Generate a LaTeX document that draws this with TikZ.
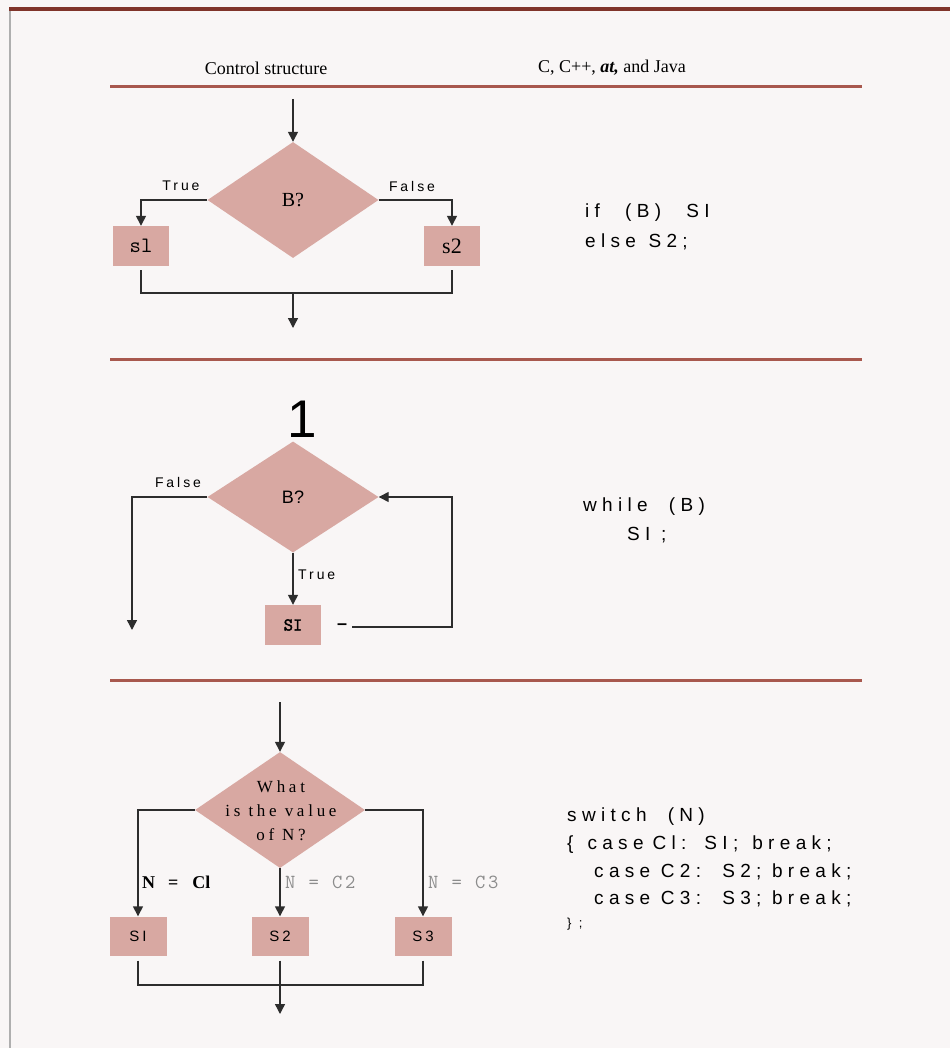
\documentclass[tikz,border=0pt]{standalone}
\usepackage{fontspec}
\setmainfont{Liberation Serif}
\newfontfamily\codefont[LetterSpace=28]{Liberation Sans}
\newfontfamily\lblfont[LetterSpace=21]{Liberation Sans}
\newfontfamily\dsfont[LetterSpace=22]{Liberation Serif}
\newfontfamily\plainsans{Liberation Sans}
\newfontfamily\grmono[LetterSpace=14]{Latin Modern Mono}
\newfontfamily\boldmono[FakeBold=2.5]{Latin Modern Mono}
\usetikzlibrary{shapes.geometric,arrows.meta}
\definecolor{bgc}{RGB}{249,246,246}
\definecolor{pinkfill}{RGB}{216,168,162}
\definecolor{rulec}{RGB}{168,88,78}
\definecolor{toprule}{RGB}{128,52,42}
\definecolor{edgec}{RGB}{175,175,175}
\definecolor{linec}{RGB}{45,45,45}
\definecolor{graytxt}{RGB}{140,140,140}
\begin{document}
\begin{tikzpicture}[x=1pt,y=-1pt,
  dec/.style={diamond, fill=pinkfill, minimum width=171pt, minimum height=116pt, inner sep=0pt},
  stbox/.style={rectangle, fill=pinkfill, minimum width=56pt, minimum height=40pt, inner sep=0pt},
  flow/.style={line width=1.4pt, draw=linec},
  arr/.style={flow, -{Triangle[width=10pt,length=10pt]}},
  code/.style={anchor=west, inner sep=0pt, font=\codefont\fontsize{19}{22}\selectfont},
  lbl/.style={inner sep=0pt, font=\lblfont\fontsize{14}{16}\selectfont},
  hdr/.style={inner sep=0pt, font=\fontsize{18}{21}\selectfont},
  divider/.style={line width=3pt, draw=rulec}
]
\fill[bgc] (0,0) rectangle (950,1048);
\useasboundingbox (0,0) rectangle (950,1048);
% frame
\draw[line width=2pt, draw=edgec] (10,10) -- (10,1048);
\draw[line width=4.5pt, draw=toprule] (9,9) -- (950,9);
% header
\node[hdr] (h1) at (266,68) {Control structure};
\node[hdr] (h2) at (612,68) {C, C++, \textbf{\textit{at,}} and Java};
\draw[divider] (110,87) -- (862,87);
\draw[divider] (110,359) -- (862,359);
\draw[divider] (110,680) -- (862,680);

% ---------- section 1: if ----------
\node[dec] (d1) at (293,200) {};
\node[inner sep=0pt, font=\fontsize{20}{22}\selectfont] (d1t) at (d1.center) {B?};
\coordinate (a1) at (293,99);
\draw[arr] (a1) -- (d1.north);
\node[stbox, font=\ttfamily\fontsize{22}{24}\selectfont] (s1) at (141,246) {sl};
\node[stbox, font=\fontsize{22}{24}\selectfont] (s2) at (452,246) {s2};
\draw[arr] (d1.west) -| (s1.north);
\draw[arr] (d1.east) -| (s2.north);
\node[lbl] (t1) at (181,186) {True};
\node[lbl] (f1) at (412,186) {False};
\coordinate (j1) at (293,293);
\coordinate (e1) at (293,328);
\draw[flow, shorten <=4pt] (s1.south) |- (j1);
\draw[flow, shorten <=4pt] (s2.south) |- (j1);
\draw[arr] (j1) -- (e1);
\node[code] (c11) at (585,213) {if\ \ \hspace{4pt}(B)\ \ \hspace{4pt}SI};
\node[code] (c12) at (585,242) {else\hspace{2pt} S2;};

% ---------- section 2: while ----------
\node[inner sep=0pt, font=\plainsans\fontsize{53}{56}\selectfont] (n1) at (302,419) {1};
\node[dec, minimum height=111pt] (d2) at (293,497) {};
\node[inner sep=0pt, font=\plainsans\fontsize{18}{20}\selectfont] (d2t) at (d2.center) {B?};
\node[stbox, font=\boldmono\fontsize{18}{20}\selectfont] (sb) at (293,625) {SI};
\draw[arr] (d2.south) -- (sb.north);
\coordinate (f2) at (132,630);
\draw[arr] (d2.west) -| (f2);
\node[lbl] (f2l) at (178,482) {False};
\node[lbl, anchor=west] (t2l) at (298,575) {True};
\node[inner sep=0pt, font=\plainsans\bfseries\fontsize{18}{20}\selectfont] (dash) at (342,627) {–};
\coordinate (c2) at (352,627);
\coordinate (l2) at (452,627);
\draw[arr] (c2) -- (l2) |- (d2.east);
\node[code] (c21) at (583,507) {while\ \ (B)};
\node[code] (c22) at (627,535) {SI\ ;};

% ---------- section 3: switch ----------
\node[dec, minimum width=170pt] (d3) at (280,810) {};
\node[inner sep=0pt, align=center, font=\dsfont\fontsize{17}{24}\selectfont] (d3t) at (281,811) {What\\is the value\\of N?};
\coordinate (a3) at (280,702);
\draw[arr] (a3) -- (d3.north);
\node[stbox, minimum width=57pt, minimum height=39pt, font=\lblfont\fontsize{15}{16}\selectfont] (b31) at (138,936) {SI};
\node[stbox, minimum width=57pt, minimum height=39pt, font=\lblfont\fontsize{15}{16}\selectfont] (b32) at (280,936) {S2};
\node[stbox, minimum width=57pt, minimum height=39pt, font=\lblfont\fontsize{15}{16}\selectfont] (b33) at (423,936) {S3};
\draw[arr] (d3.west) -| (b31.north);
\draw[arr] (d3.south) -- (b32.north);
\draw[arr] (d3.east) -| (b33.north);
\node[inner sep=0pt, anchor=west, font=\bfseries\fontsize{18}{20}\selectfont] (l31) at (142,882) {N\hspace{13pt}=\hspace{14pt}Cl};
\node[inner sep=0pt, anchor=west, text=graytxt, font=\grmono\fontsize{20}{22}\selectfont] (l32) at (285,882) {N = C2};
\node[inner sep=0pt, anchor=west, text=graytxt, font=\grmono\fontsize{20}{22}\selectfont] (l33) at (428,882) {N = C3};
\coordinate (j3) at (280,985);
\coordinate (e3) at (280,1014);
\draw[flow, shorten <=5pt] (b31.south) |- (j3);
\draw[flow, shorten <=5pt] (b33.south) |- (j3);
\draw[arr, shorten <=5pt] (b32.south) -- (e3);
\node[code] (c31) at (567,817) {switch\ \ (N)};
\node[code] (c32) at (567,845) {\{\hspace{14pt}case\hspace{9pt}Cl:\hspace{18pt}SI;\hspace{14pt}break;};
\node[code] (c33) at (594,872) {case C2:\ \ S2; break;};
\node[code] (c34) at (594,899) {case C3:\ \ S3; break;};
\node[code, font=\codefont\fontsize{13}{15}\selectfont] (c35) at (567,924) {\} ;};
\end{tikzpicture}
\end{document}
